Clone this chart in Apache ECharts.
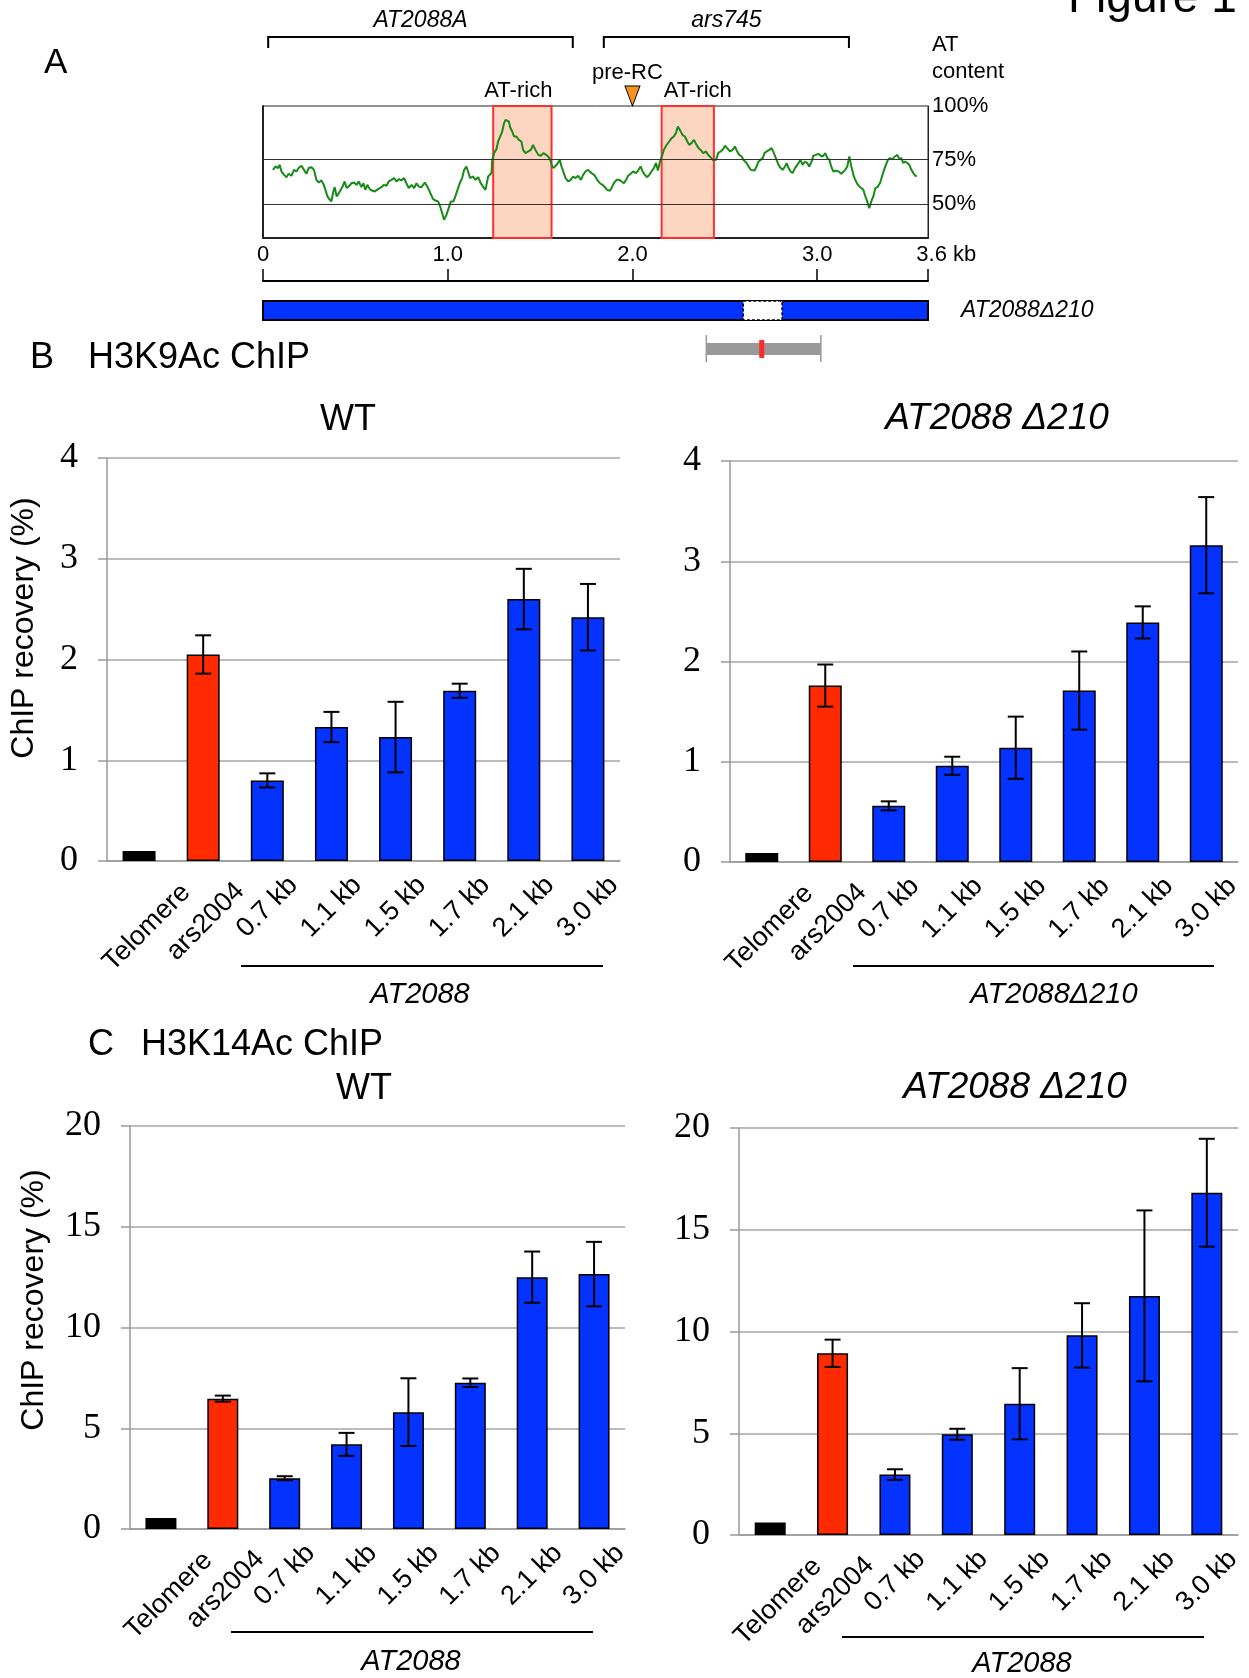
<!DOCTYPE html>
<html>
<head>
<meta charset="utf-8">
<title>H3K9Ac / H3K14Ac ChIP at AT2088</title>
<script src="https://cdn.jsdelivr.net/npm/echarts@6.0.0/dist/echarts.min.js"></script>
<style>
  html, body { margin: 0; padding: 0; background: #fff; }
  #chart { width: 1249px; height: 1678px; }
</style>
</head>
<body>
<div id="chart"></div>
<script>
const SANS = '"Liberation Sans", Arial, Helvetica, sans-serif';
const SERIF = '"Liberation Serif", "Times New Roman", serif';

// ---- panel A: AT content along AT2088 (kb, %)
const atKb = [0.054,0.067,0.081,0.090,0.100,0.114,0.127,0.139,0.154,0.168,
  0.181,0.193,0.208,0.222,0.235,0.247,0.262,0.276,0.289,0.302,
  0.316,0.329,0.338,0.349,0.359,0.370,0.381,0.388,0.399,0.410,
  0.421,0.433,0.442,0.453,0.464,0.479,0.493,0.506,0.518,0.533,
  0.544,0.554,0.565,0.578,0.590,0.605,0.623,0.641,0.655,0.668,
  0.681,0.695,0.710,0.722,0.735,0.749,0.764,0.776,0.789,0.804,
  0.818,0.831,0.843,0.858,0.876,0.885,0.894,0.906,0.921,0.934,
  0.948,0.959,0.970,0.980,0.993,1.002,1.017,1.031,1.044,1.053,
  1.065,1.078,1.089,1.101,1.110,1.121,1.137,1.150,1.165,1.179,
  1.193,1.204,1.219,1.237,1.240,1.251,1.264,1.273,1.284,1.295,
  1.305,1.313,1.323,1.331,1.338,1.349,1.360,1.372,1.385,1.399,
  1.408,1.421,1.435,1.450,1.462,1.475,1.490,1.504,1.518,1.533,
  1.544,1.555,1.562,1.573,1.580,1.594,1.607,1.616,1.625,1.638,
  1.652,1.666,1.679,1.692,1.706,1.721,1.733,1.746,1.760,1.778,
  1.793,
  1.809,1.824,1.838,1.851,1.863,1.878,1.889,1.899,1.914,1.928,
  1.941,1.954,1.964,1.977,1.990,2.004,2.019,2.031,2.044,2.055,
  2.067,2.080,2.091,2.103,2.116,2.127,2.138,2.149,2.158,2.170,
  2.185,2.199,2.212,2.224,2.235,2.246,2.257,2.271,2.284,2.297,
  2.307,2.320,2.333,2.347,2.358,2.369,2.383,2.398,2.410,2.423,
  2.437,2.452,2.464,2.477,2.488,2.501,2.513,2.528,2.542,2.555,
  2.564,2.578,2.591,2.603,2.618,2.629,2.640,2.650,2.661,2.672,
  2.683,2.694,2.705,2.715,2.726,2.741,2.753,2.762,2.771,2.780,
  2.791,2.802,2.813,2.826,2.835,2.845,2.856,2.867,2.880,2.889,
  2.899,2.910,2.921,2.934,2.946,2.957,2.970,2.979,2.993,3.006,
  3.019,3.030,3.044,3.055,3.066,3.076,3.087,3.102,3.116,3.131,
  3.141,3.152,3.163,3.174,3.185,3.196,3.206,3.217,3.228,3.239,
  3.250,3.261,3.271,3.282,3.293,3.304,3.315,3.326,3.340,3.351,
  3.362,3.372,3.383,3.394,3.409,3.421,3.434,3.445,3.456,3.466,
  3.477,3.488,3.499,3.510,3.521,3.531,3.539];
const atPct = [69.2,71.1,70.2,72.0,68.3,66.4,65.1,67.0,65.9,69.2,
  68.3,70.2,71.5,69.2,67.0,70.2,70.7,69.2,63.6,62.1,
  63.3,60.8,58.0,54.3,52.8,51.5,57.1,59.5,54.3,56.1,
  58.0,60.3,62.7,59.0,59.9,61.7,62.1,60.8,62.7,59.5,
  61.7,58.0,60.8,58.4,57.6,57.1,58.4,59.5,60.8,60.3,
  62.7,63.6,64.6,62.7,64.0,63.3,64.6,61.7,59.0,60.8,
  59.0,61.7,59.9,59.5,62.1,62.7,59.0,56.1,52.8,52.0,
  51.5,48.7,44.9,41.2,44.0,46.8,51.5,51.5,55.2,58.0,
  61.7,64.6,69.2,71.1,68.3,64.6,65.5,63.6,65.1,61.7,
  59.5,58.0,65.5,67.4,73.9,78.6,80.8,85.1,87.9,90.7,
  95.4,97.2,98.2,96.3,93.1,90.7,87.9,87.9,86.0,85.1,
  80.4,78.6,79.5,80.4,83.2,80.4,77.6,77.1,78.6,77.6,
  76.7,74.8,72.0,70.2,71.1,72.6,74.8,71.1,70.2,64.6,
  62.7,63.6,65.5,64.6,65.9,63.6,66.4,68.3,69.2,67.4,
  66.4,
  63.6,61.7,60.8,59.5,58.0,57.5,59.5,61.7,63.6,63.6,
  62.7,61.7,63.3,65.9,67.0,68.3,67.4,68.8,71.1,68.3,
  66.4,65.1,66.4,68.3,70.2,73.0,68.8,73.9,76.3,80.4,
  83.2,85.1,87.0,87.9,89.8,93.5,91.6,88.8,87.9,85.1,
  83.2,84.2,86.0,83.2,81.4,80.4,78.6,79.5,77.6,76.3,
  74.5,74.8,78.6,79.5,80.4,82.7,81.4,79.5,80.4,82.3,
  80.1,77.6,76.7,74.5,73.0,71.1,69.2,68.3,68.8,71.1,
  73.9,74.8,75.8,78.6,79.5,80.4,81.4,79.5,78.6,74.8,
  72.0,70.2,69.2,71.1,73.0,70.2,68.3,67.4,70.2,71.1,
  73.0,74.8,72.0,73.9,73.0,71.1,73.9,77.1,77.6,78.2,
  77.1,76.7,78.6,75.8,74.8,71.1,68.3,68.8,68.3,67.0,
  66.4,69.2,71.1,76.7,71.1,66.4,63.6,61.4,59.9,59.0,
  58.0,54.3,51.5,47.7,51.5,54.3,59.0,59.5,61.7,65.5,
  69.2,72.0,74.8,75.8,75.2,76.7,77.6,75.2,75.8,73.0,
  73.9,73.0,72.0,69.2,67.4,65.9,65.5];
const atRichKb = [[1.246, 1.562], [2.158, 2.441]];
const preRcKb = 2.0;
const atRefLines = [50, 75];
const atLabelValues = [50, 75, 105];   // top of the box is labelled 100%
const rulerTicks = [0, 1, 2, 3, 3.6];
const bracketKb = [[0.028, 1.677], [1.845, 3.172]];
const bracketNames = ['AT2088A', 'ars745'];
const constructKb = [0, 3.6];
const deletionKb = [2.60, 2.81];
const probeKb = [2.40, 3.02];
const probeSiteKb = 2.70;

// ---- panels B and C: ChIP recovery (%)
const sites = ['Telomere', 'ars2004', '0.7 kb', '1.1 kb', '1.5 kb', '1.7 kb', '2.1 kb', '3.0 kb'];
const k9WT = [0.10, 2.05, 0.80, 1.33, 1.23, 1.69, 2.60, 2.42];
const k9WTErr = [0, 0.19, 0.07, 0.15, 0.35, 0.07, 0.30, 0.33];
const k9Del = [0.09, 1.76, 0.56, 0.96, 1.14, 1.71, 2.39, 3.16];
const k9DelErr = [0, 0.21, 0.045, 0.09, 0.31, 0.39, 0.16, 0.48];
const k14WT = [0.54, 6.47, 2.52, 4.20, 5.80, 7.26, 12.50, 12.65];
const k14WTErr = [0, 0.15, 0.10, 0.57, 1.68, 0.21, 1.27, 1.60];
const k14Del = [0.62, 8.93, 2.97, 4.95, 6.45, 9.81, 11.75, 16.82];
const k14DelErr = [0, 0.67, 0.26, 0.27, 1.75, 1.58, 4.20, 2.65];

function barColor(i) {
    if (i === 0) return '#000000';
    if (i === 1) return '#ff2a00';
    return '#0433ff';
}

// 误差线
function renderErrorBar(params, api) {
    const x = api.value(0);
    const lo = api.coord([x, api.value(1)]);
    const hi = api.coord([x, api.value(2)]);
    const cap = 8;
    const style = { stroke: '#000', lineWidth: 2 };
    return {
        type: 'group',
        children: [
            { type: 'line', shape: { x1: hi[0], y1: hi[1], x2: lo[0], y2: lo[1] }, style: style },
            { type: 'line', shape: { x1: hi[0] - cap, y1: hi[1], x2: hi[0] + cap, y2: hi[1] }, style: style },
            { type: 'line', shape: { x1: lo[0] - cap, y1: lo[1], x2: lo[0] + cap, y2: lo[1] }, style: style }
        ]
    };
}

// brackets over panel A
function renderBracket(params, api) {
    const cs = params.coordSys;
    const x1 = api.coord([api.value(0), 50])[0];
    const x2 = api.coord([api.value(1), 50])[0];
    const yLine = cs.y - 69;
    const yEnd = cs.y - 58;
    return {
        type: 'group',
        children: [
            { type: 'polyline', shape: { points: [[x1, yEnd], [x1, yLine], [x2, yLine], [x2, yEnd]] },
              style: { stroke: '#000', lineWidth: 2, fill: null } },
            { type: 'text', x: (x1 + x2) / 2, y: cs.y - 85,
              style: { text: bracketNames[params.dataIndex], fontSize: 23, fontStyle: 'italic', fontFamily: SANS,
                       fill: '#000', align: 'center', verticalAlign: 'middle' } }
        ]
    };
}

// construct map under the ruler: 0 = construct, 1 = deletion, 2 = amplicon, 3 = site
function renderConstruct(params, api) {
    const cs = params.coordSys;
    const base = cs.y + cs.height;
    const kind = api.value(2);
    const x1 = api.coord([api.value(0), 0])[0];
    const x2 = api.coord([api.value(1), 0])[0];
    if (kind === 0) {
        return { type: 'rect', shape: { x: x1, y: base + 20, width: x2 - x1, height: 19 },
                 style: { fill: '#0433ff', stroke: '#000', lineWidth: 2 } };
    }
    if (kind === 1) {
        return { type: 'rect', shape: { x: x1, y: base + 20, width: x2 - x1, height: 19 },
                 style: { fill: '#fff', stroke: '#000', lineWidth: 1.5, lineDash: [3, 2] } };
    }
    if (kind === 2) {
        return {
            type: 'group',
            children: [
                { type: 'rect', shape: { x: x1, y: base + 62, width: x2 - x1, height: 12 }, style: { fill: '#999' } },
                { type: 'line', shape: { x1: x1, y1: base + 54, x2: x1, y2: base + 81 }, style: { stroke: '#999', lineWidth: 1.5 } },
                { type: 'line', shape: { x1: x2, y1: base + 54, x2: x2, y2: base + 81 }, style: { stroke: '#999', lineWidth: 1.5 } }
            ]
        };
    }
    return { type: 'rect', shape: { x: x1 - 2.5, y: base + 59, width: 5, height: 18 }, style: { fill: '#ff2a2a' } };
}

// rotated labels are centred under the bar; the two long ones sit a little lower
function siteLabel(name, i) {
    if (i === 0) {
        return { value: name, textStyle: { align: 'center', verticalAlign: 'top', lineHeight: 40, padding: [0, 18, 0, 0] } };
    }
    if (i === 1) {
        return { value: name, textStyle: { align: 'center', verticalAlign: 'top', lineHeight: 24, padding: [0, 17, 0, 0] } };
    }
    return { value: name, textStyle: { align: 'center', verticalAlign: 'middle' } };
}

function catAxis(gridIndex) {
    return {
        gridIndex: gridIndex,
        type: 'category',
        data: sites.map(siteLabel),
        axisTick: { show: false },
        axisLine: { lineStyle: { color: '#999', width: 1.5 } },
        axisLabel: {
            interval: 0, rotate: 45, align: 'center', verticalAlign: 'middle', margin: 46,
            fontSize: 27, color: '#000', fontFamily: SANS
        }
    };
}

function valAxis(gridIndex, max, interval) {
    return {
        gridIndex: gridIndex,
        type: 'value',
        min: 0,
        max: max,
        interval: interval,
        axisLine: { show: true, lineStyle: { color: '#999', width: 1.5 } },
        axisTick: { show: true, length: 9, lineStyle: { color: '#999', width: 1.5 } },
        splitLine: { lineStyle: { color: '#a5a5a5', width: 1.5 } },
        axisLabel: { margin: 29, fontSize: 36, color: '#000', fontFamily: SERIF }
    };
}

// xIdx: category axis of the panel, yIdx: its value axis
function barSeries(xIdx, yIdx, values, errs, barWidth) {
    const errData = [];
    values.forEach(function(v, i) {
        if (errs[i] > 0) errData.push([i, v - errs[i], v + errs[i]]);
    });
    return [
        {
            type: 'bar', xAxisIndex: xIdx, yAxisIndex: yIdx, barWidth: barWidth,
            itemStyle: { borderColor: '#000', borderWidth: 1.5 },
            data: values.map(function(v, i) { return { value: v, itemStyle: { color: barColor(i) } }; })
        },
        { type: 'custom', xAxisIndex: xIdx, yAxisIndex: yIdx, z: 5, renderItem: renderErrorBar, data: errData }
    ];
}

function txt(x, y, text, size, extra) {
    return {
        type: 'text', x: x, y: y,
        style: Object.assign({ text: text, fontSize: size, fontFamily: SANS, fill: '#000', align: 'left', verticalAlign: 'middle' }, extra || {})
    };
}

function yName(x, y) {
    const t = txt(x, y, 'ChIP recovery (%)', 32, { align: 'center' });
    t.rotation = Math.PI / 2;
    return t;
}

function groupLine(x1, x2, y) {
    return { type: 'line', shape: { x1: x1, y1: y, x2: x2, y2: y }, style: { stroke: '#000', lineWidth: 2 } };
}

const chart = echarts.init(document.getElementById('chart'));

const option = {
    backgroundColor: '#fff',
    animation: false,
    grid: [
        { left: 263, top: 106, width: 665, height: 132, show: true, borderColor: '#222', borderWidth: 1 },
        { left: 263, top: 268, width: 665, height: 13 },
        { left: 107, top: 458, width: 513, height: 403 },
        { left: 730, top: 461, width: 508, height: 401 },
        { left: 130, top: 1126, width: 495, height: 403 },
        { left: 739, top: 1128, width: 499, height: 407 }
    ],
    xAxis: [
        { gridIndex: 0, type: 'value', min: 0, max: 3.6, axisLabel: { show: false }, axisTick: { show: false },
          splitLine: { show: false }, axisLine: { lineStyle: { color: '#222', width: 2 } } },
        { gridIndex: 1, type: 'value', min: 0, max: 3.6, position: 'bottom', splitLine: { show: false },
          axisLine: { lineStyle: { color: '#000', width: 2 } },
          axisTick: { inside: true, length: 12, customValues: rulerTicks, lineStyle: { color: '#000', width: 1.5 } },
          axisLabel: { inside: true, margin: 15, customValues: rulerTicks, fontSize: 22, color: '#000', fontFamily: SANS,
            formatter: function(v) {
                if (v === 0) return '0';
                if (v === 3.6) return '      3.6 kb';
                return v.toFixed(1);
            } } },
        catAxis(2), catAxis(3), catAxis(4), catAxis(5)
    ],
    yAxis: [
        { gridIndex: 0, type: 'value', min: 31, max: 105, position: 'left', axisLabel: { show: false },
          axisTick: { show: false }, splitLine: { show: false },
          axisLine: { show: true, lineStyle: { color: '#222', width: 2 } } },
        { gridIndex: 0, type: 'value', min: 31, max: 105, position: 'right', axisTick: { show: false },
          splitLine: { show: false }, axisLine: { show: true, lineStyle: { color: '#222', width: 1 } },
          axisLabel: { customValues: atLabelValues, margin: 4, fontSize: 22, color: '#000', fontFamily: SANS,
            formatter: function(v) { return (v > 100 ? 100 : v) + '%'; } } },
        { gridIndex: 1, type: 'value', show: false, min: 0, max: 1 },
        valAxis(2, 4, 1), valAxis(3, 4, 1), valAxis(4, 20, 5), valAxis(5, 20, 5)
    ],
    graphic: [
        txt(1068, -1, 'Figure 1', 46),
        txt(44, 63, 'A', 35),
        txt(932, 45, 'AT', 22),
        txt(932, 72, 'content', 22),
        txt(961, 311, 'AT2088\u0394210', 23, { fontStyle: 'italic' }),
        txt(30, 358, 'B', 36),
        txt(88, 358, 'H3K9Ac ChIP', 36),
        txt(88, 1045, 'C', 36),
        txt(141, 1045, 'H3K14Ac ChIP', 36),
        txt(348, 420, 'WT', 36, { align: 'center' }),
        txt(997, 419, 'AT2088 \u0394210', 37, { align: 'center', fontStyle: 'italic' }),
        txt(364, 1089, 'WT', 36, { align: 'center' }),
        txt(1015, 1088, 'AT2088 \u0394210', 37, { align: 'center', fontStyle: 'italic' }),
        yName(24, 628),
        yName(34, 1300),
        groupLine(241, 603, 966),
        txt(420, 995, 'AT2088', 29, { align: 'center', fontStyle: 'italic' }),
        groupLine(853, 1214, 966),
        txt(1054, 995, 'AT2088\u0394210', 29, { align: 'center', fontStyle: 'italic' }),
        groupLine(231, 593, 1632),
        txt(411, 1662, 'AT2088', 29, { align: 'center', fontStyle: 'italic' }),
        groupLine(842, 1204, 1637),
        txt(1022, 1664, 'AT2088', 29, { align: 'center', fontStyle: 'italic' })
    ],
    series: [
        {
            name: 'AT content',
            type: 'line',
            xAxisIndex: 0,
            yAxisIndex: 0,
            showSymbol: false,
            z: 4,
            lineStyle: { color: '#178a17', width: 2 },
            data: atKb.map(function(k, i) { return [k, atPct[i]]; }),
            markLine: {
                silent: true, symbol: 'none', label: { show: false },
                lineStyle: { type: 'solid', color: '#333', width: 1.2 },
                data: atRefLines.map(function(v) { return { yAxis: v }; })
            },
            markArea: {
                silent: true,
                itemStyle: { color: '#fdd6c2', borderColor: '#ff3030', borderWidth: 2 },
                label: { show: true, position: 'top', distance: 3, color: '#000', fontSize: 22, fontFamily: SANS },
                data: atRichKb.map(function(r, i) {
                    return [{ xAxis: r[0], name: 'AT-rich', label: { offset: [i === 0 ? -4 : 10, 0] } }, { xAxis: r[1] }];
                })
            },
            markPoint: {
                silent: true,
                data: [{
                    coord: [preRcKb, 105],
                    symbol: 'path://M0,0 L10,0 L5,13 Z',
                    symbolSize: [15, 20],
                    symbolOffset: [0, -10],
                    itemStyle: { color: '#f7931e', borderColor: '#000', borderWidth: 1 },
                    label: { show: true, position: 'top', distance: 1, offset: [-5, 0], formatter: 'pre-RC',
                             color: '#000', fontSize: 22, fontFamily: SANS }
                }]
            }
        },
        {
            type: 'custom', xAxisIndex: 0, yAxisIndex: 0, renderItem: renderBracket,
            data: bracketKb
        },
        {
            type: 'custom', xAxisIndex: 1, yAxisIndex: 2, renderItem: renderConstruct,
            data: [
                [constructKb[0], constructKb[1], 0],
                [deletionKb[0], deletionKb[1], 1],
                [probeKb[0], probeKb[1], 2],
                [probeSiteKb, probeSiteKb, 3]
            ]
        }
    ]
        .concat(barSeries(2, 3, k9WT, k9WTErr, 33))
        .concat(barSeries(3, 4, k9Del, k9DelErr, 33))
        .concat(barSeries(4, 5, k14WT, k14WTErr, 31))
        .concat(barSeries(5, 6, k14Del, k14DelErr, 31))
};

chart.setOption(option);
</script>
</body>
</html>
